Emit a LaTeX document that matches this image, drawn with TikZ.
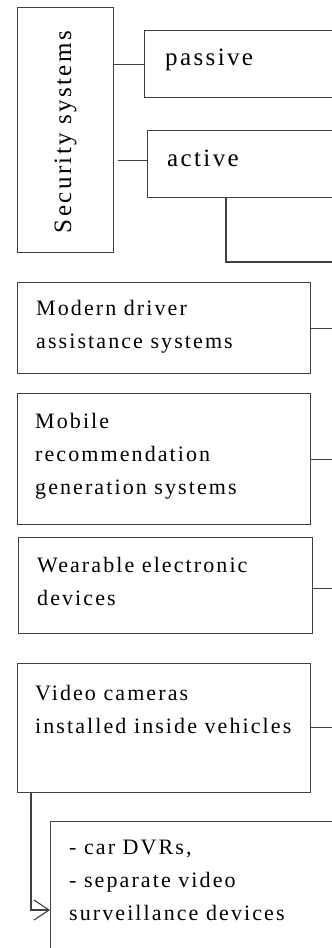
\documentclass[tikz,border=0pt]{standalone}
\usepackage{fontspec}
\setmainfont{Liberation Serif}
\newfontfamily\spacedserif{Liberation Serif}[LetterSpace=9.5]
\newcommand\smallbodyfont{\spacedserif\fontsize{22}{33}\selectfont}
\newcommand\bigbodyfont{\spacedserif\fontsize{25}{30}\selectfont}
\usetikzlibrary{arrows.meta}
\tikzset{
  box/.style={draw=black!75, line width=1.1pt, rectangle, inner sep=0pt, anchor=north west},
  txt/.style={align=left, inner sep=0pt, anchor=north west, font=\smallbodyfont},
  bigtxt/.style={inner sep=0pt, anchor=base west, font=\bigbodyfont},
  conn/.style={draw=black!75, line width=1.1pt},
}
\begin{document}
\begin{tikzpicture}[x=1pt,y=1pt]
\useasboundingbox (0,0) rectangle (332,-948);
\clip (0,0) rectangle (332,-948);
\coordinate (rightedge) at (345,0);
% top section
\node[box, minimum width=96pt, minimum height=245pt] (sec) at (17,-7) {};
\node[rotate=90, inner sep=0pt, font=\bigbodyfont] (sect) at ([xshift=0pt,yshift=-2pt]sec.center) {Security systems};
\node[box, minimum width=210pt, minimum height=67pt] (pas) at (144,-30) {};
\node[bigtxt] (past) at ([shift={(21,-35)}]pas.north west) {passive};
\node[box, minimum width=210pt, minimum height=67pt] (act) at (147,-130) {};
\node[bigtxt] (actt) at ([shift={(20,-36)}]act.north west) {active};
\coordinate (actend) at (345,-262);
\draw[conn] (sec.east |- pas.west) -- (pas.west);
\draw[conn] ([xshift=4pt,yshift=4pt]sec.east |- act.west) -- ([yshift=4pt]act.west);
\draw[conn] ([xshift=79pt]act.south west) |- (actend);
% left boxes
\node[box, minimum width=293pt, minimum height=91pt] (mod) at (17,-282) {};
\node[txt] (modt) at ([shift={(19,-18)}]mod.north west) {Modern driver\\assistance systems};
\node[box, minimum width=293pt, minimum height=131pt] (mob) at (17,-393) {};
\node[txt] (mobt) at ([shift={(18,-20)}]mob.north west) {Mobile\\recommendation\\generation systems};
\node[box, minimum width=294pt, minimum height=96pt] (wear) at (18,-537) {};
\node[txt] (weart) at ([shift={(19,-20)}]wear.north west) {Wearable electronic\\devices};
\node[box, minimum width=293pt, minimum height=129pt] (vid) at (17,-663) {};
\node[txt] (vidt) at ([shift={(18,-22)}]vid.north west) {Video cameras\\installed inside vehicles};
\node[box, minimum width=300pt, minimum height=140pt] (dvr) at (50,-821) {};
\node[txt] (dvrt) at ([shift={(19,-19)}]dvr.north west) {- car DVRs,\\- separate video\\surveillance devices};
% connectors to the right edge
\draw[conn] (mod.east) -- (mod.east -| rightedge);
\draw[conn] (mob.east) -- (mob.east -| rightedge);
\draw[conn] ([yshift=-3pt]wear.east) -- ([yshift=-3pt]wear.east -| rightedge);
\draw[conn] ([yshift=1pt]vid.east) -- ([yshift=1pt]vid.east -| rightedge);
% arrow to DVR box
\draw[conn, -{Straight Barb[length=15pt,width=20pt]}] ([xshift=14pt]vid.south west) |- ([yshift=-89pt]dvr.north west);
\end{tikzpicture}
\end{document}
